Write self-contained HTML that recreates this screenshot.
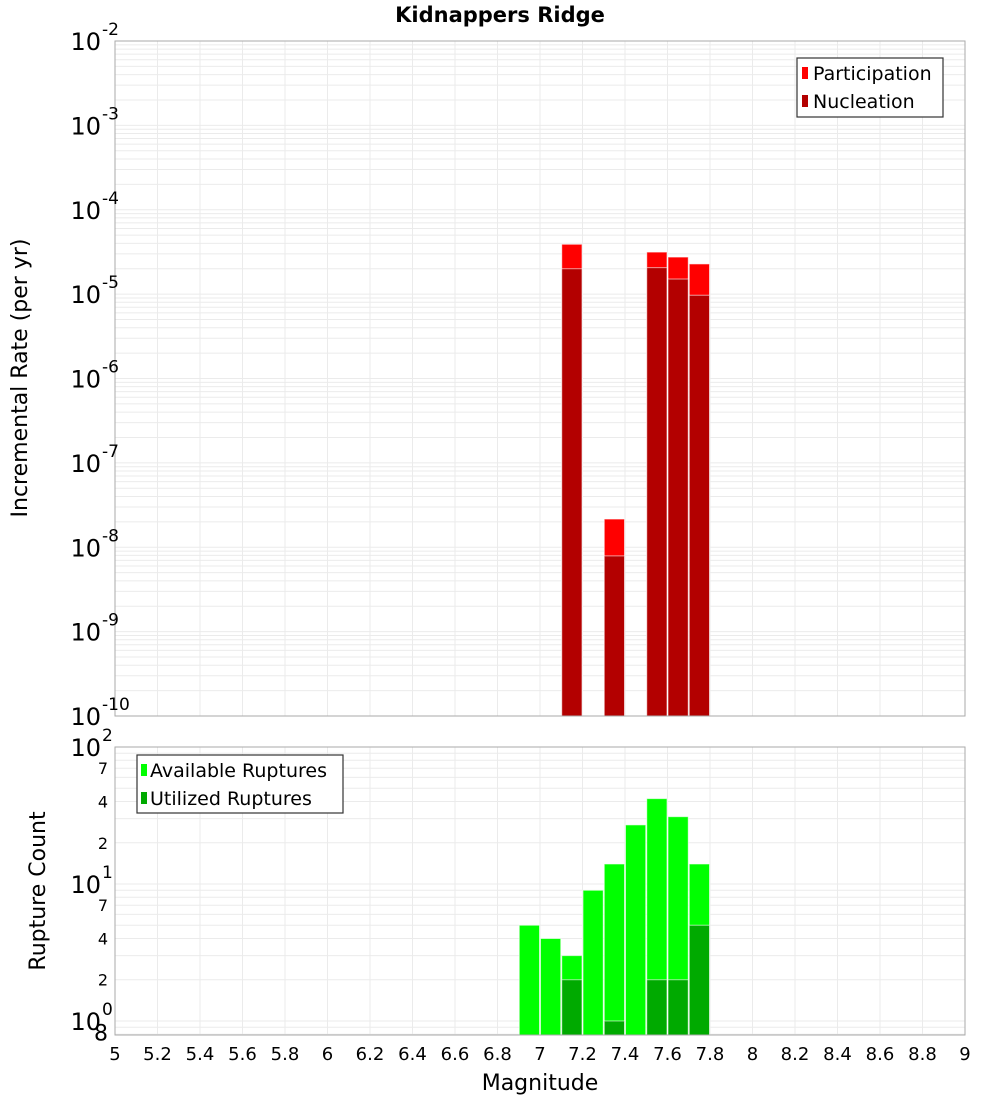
<!DOCTYPE html>
<html><head><meta charset="utf-8">
<style>
html,body{margin:0;padding:0;background:#fff;}
svg{display:block;font-family:"DejaVu Sans","Liberation Sans",sans-serif;}
</style></head>
<body>
<svg id="chart" width="1000" height="1100" viewBox="0 0 1000 1100" xmlns="http://www.w3.org/2000/svg">
<text x="500" y="22" text-anchor="middle" font-size="21" font-weight="bold">Kidnappers Ridge</text>
<g id="topPlot"></g>
<g id="botPlot"></g>
<text transform="translate(27,378) rotate(-90)" text-anchor="middle" font-size="22">Incremental Rate (per yr)</text>
<text transform="translate(45,891) rotate(-90)" text-anchor="middle" font-size="22">Rupture Count</text>
<text x="540" y="1090" text-anchor="middle" font-size="22">Magnitude</text>
<g>
<rect x="797" y="58" width="146" height="59" fill="#fff" stroke="#333" stroke-width="1.2"/>
<rect x="802" y="67" width="6" height="12" fill="#ff0000"/>
<text x="813" y="80" font-size="19">Participation</text>
<rect x="802" y="95" width="6" height="12" fill="#b30000"/>
<text x="813" y="108" font-size="19">Nucleation</text>
</g>
<g>
<rect x="137" y="755" width="206" height="58" fill="#fff" stroke="#333" stroke-width="1.2"/>
<rect x="141" y="764" width="6" height="12" fill="#00ff00"/>
<text x="150" y="777" font-size="19">Available Ruptures</text>
<rect x="141" y="792" width="6" height="12" fill="#00aa00"/>
<text x="150" y="805" font-size="19">Utilized Ruptures</text>
</g>
</svg>
<script>
const mags = [6.9, 7.0, 7.1, 7.2, 7.3, 7.4, 7.5, 7.6, 7.7];
const available = [5, 4, 3, 9, 14, 27, 42, 31, 14];
const utilized = [0, 0, 2, 0, 1, 0, 2, 2, 5];
const rateMags = [7.1, 7.3, 7.5, 7.6, 7.7];
const participation = [3.9e-5, 2.16e-8, 3.15e-5, 2.75e-5, 2.28e-5];
const nucleation = [2.0e-5, 7.9e-9, 2.06e-5, 1.51e-5, 9.7e-6];
const xTicks = [5,5.2,5.4,5.6,5.8,6,6.2,6.4,6.6,6.8,7,7.2,7.4,7.6,7.8,8,8.2,8.4,8.6,8.8,9];
const topExps = [-2,-3,-4,-5,-6,-7,-8,-9,-10];
const botExps = [2,1,0];
const botMinor = [70,40,20,7,4,2,0.8];

const NS = "http://www.w3.org/2000/svg";
const X0=115, X1=965;
const xs = m => X0 + (m-5)/4*(X1-X0);
const T0=41, T1=716, TMIN=-10, TMAX=-2;
const yT = v => T0 + (TMAX - Math.log10(v))/(TMAX-TMIN)*(T1-T0);
const B0=747, B1=1035, BMIN=Math.log10(0.79), BMAX=2;
const yB = v => B0 + (BMAX - Math.log10(v))/(BMAX-BMIN)*(B1-B0);

function mk(parent, tag, attrs){
  const e=document.createElementNS(NS,tag);
  for(const k in attrs) e.setAttribute(k, attrs[k]);
  parent.appendChild(e); return e;
}
const topG=document.getElementById('topPlot'), botG=document.getElementById('botPlot'), svgEl=document.getElementById('chart');

function grids(g, y0, y1, yfn, lo, hi){
  mk(g,'rect',{x:X0,y:y0,width:X1-X0,height:y1-y0,fill:'#fff'});
  for(const t of xTicks){
    const l=mk(g,'line',{x1:xs(t),x2:xs(t),y1:y0,y2:y1,stroke:'#ebebeb','stroke-width':1});
    
    
  }
  for(let e=lo;e<hi;e++){
    for(let k=1;k<10;k++){
      const v=k*Math.pow(10,e); const y=yfn(v);
      if(y<y0-0.5||y>y1+0.5) continue;
      const l=mk(g,'line',{x1:X0,x2:X1,y1:y,y2:y,stroke:'#ebebeb','stroke-width':1});
      
      
    }
  }
}
grids(topG,T0,T1,yT,-10,-1);
grids(botG,B0,B1,yB,-1,2);

const bw = xs(5.1)-xs(5);
function bar(g, m, v, base, yfn, color, name){
  const y=yfn(v);
  const r=mk(g,'rect',{x:xs(m)+0.5,y:y,width:bw-1,height:Math.max(0,base-y),fill:color,stroke:'rgba(255,255,255,0.6)','stroke-width':1});
  
  
}
rateMags.forEach((m,i)=>{ bar(topG,m,participation[i],T1,yT,'#ff0000','participation-bar'); });
rateMags.forEach((m,i)=>{ bar(topG,m,nucleation[i],T1,yT,'#b30000','nucleation-bar'); });
mags.forEach((m,i)=>{ bar(botG,m,available[i],B1,yB,'#00ff00','available-bar'); });
mags.forEach((m,i)=>{ if(utilized[i]>0) bar(botG,m,utilized[i],B1,yB,'#00aa00','utilized-bar'); });

mk(topG,'rect',{x:X0,y:T0,width:X1-X0,height:T1-T0,fill:'none',stroke:'#aaa','stroke-width':1});
mk(botG,'rect',{x:X0,y:B0,width:X1-X0,height:B1-B0,fill:'none',stroke:'#aaa','stroke-width':1});

topExps.forEach(e=>{
  const y=yT(Math.pow(10,e));
  const t=mk(svgEl,'text',{x:101,y:y+9,'text-anchor':'end','font-size':24});
  
  
  t.textContent='10';
  const s=mk(svgEl,'text',{x:102,y:y-6,'text-anchor':'start','font-size':17});
  
  
  s.textContent=String(e);
});
botExps.forEach(e=>{
  const y=yB(Math.pow(10,e));
  const t=mk(svgEl,'text',{x:101,y:y+9,'text-anchor':'end','font-size':24});
  
  
  t.textContent='10';
  const s=mk(svgEl,'text',{x:102,y:y-6,'text-anchor':'start','font-size':17});
  
  
  s.textContent=String(e);
});
botMinor.forEach(v=>{
  const y=yB(v);
  const t=mk(svgEl,'text',{x:108,y:y+6,'text-anchor':'end','font-size':v<1?22:16});
  
  
  t.textContent=String(Math.round(v>=10?v/10:(v>=1?v:v*10)));
});
xTicks.forEach(m=>{
  const t=mk(svgEl,'text',{x:xs(m),y:1060,'text-anchor':'middle','font-size':18});
  
  
  t.textContent=String(m);
});
</script>
</body></html>
